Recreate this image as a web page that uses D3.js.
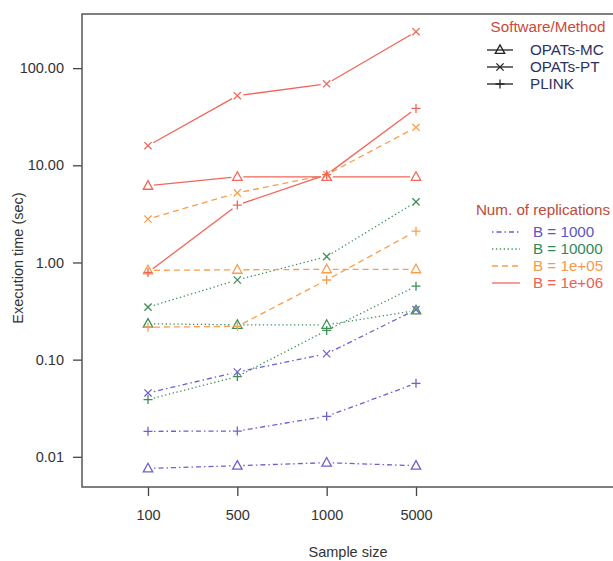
<!DOCTYPE html>
<html><head><meta charset="utf-8">
<script src="https://cdn.jsdelivr.net/npm/d3@7"></script>
<style>body{margin:0;background:#fff}svg{display:block}text{font-family:"Liberation Sans",Arial,sans-serif}</style>
</head><body>
<script>
const sampleSizes = ["100", "500", "1000", "5000"];
const methods = ["OPATs-MC", "OPATs-PT", "PLINK"];
const replications = ["B = 1000", "B = 10000", "B = 1e+05", "B = 1e+06"];
const yTicks = [0.01, 0.1, 1, 10, 100];

// execution time (sec), per replication level, per method, by sample size
const b1000_mc = [0.0076, 0.0081, 0.0087, 0.0081];
const b1000_pt = [0.0454, 0.0746, 0.115, 0.327];
const b1000_plink = [0.0183, 0.0184, 0.0261, 0.057];
const b10000_mc = [0.234, 0.228, 0.228, 0.32];
const b10000_pt = [0.347, 0.66, 1.15, 4.2];
const b10000_plink = [0.0388, 0.067, 0.2, 0.57];
const b1e05_mc = [0.83, 0.84, 0.85, 0.85];
const b1e05_pt = [2.8, 5.2, 8.0, 24.6];
const b1e05_plink = [0.216, 0.22, 0.66, 2.1];
const b1e06_mc = [6.15, 7.6, 7.6, 7.6];
const b1e06_pt = [15.9, 52, 69, 237];
const b1e06_plink = [0.79, 3.9, 8.0, 38.5];

const seriesValues = [
  [b1000_mc, b1000_pt, b1000_plink],
  [b10000_mc, b10000_pt, b10000_plink],
  [b1e05_mc, b1e05_pt, b1e05_plink],
  [b1e06_mc, b1e06_pt, b1e06_plink]
];

const W = 613, H = 561;
const box = {left: 82, top: 14, right: 640, bottom: 487};
const colors = ["#6b62cc", "#3f8f55", "#f99e4c", "#f0665a"];
const textColors = ["#5a55c8", "#2f8a5a", "#f79a45", "#ee5e55"];
const dashes = ["1.5,3,5,3", "1.3,2.6", "6,4", null];

const svg = d3.select("body").append("svg").attr("width", W).attr("height", H);

const x = d3.scalePoint().domain(sampleSizes).range([148, 416]);
const y = d3.scaleLog().domain([0.00489, 360.6]).range([box.bottom, box.top]);

function markerPath(kind, r) {
  if (kind === 0) { // open triangle
    const h = r * 1.9;
    return `M0,${-h * 0.6}L${r * 1.05},${h * 0.4}L${-r * 1.05},${h * 0.4}Z`;
  }
  if (kind === 1) { const a = r * 0.8; return `M${-a},${-a}L${a},${a}M${-a},${a}L${a},${-a}`; }
  return `M${-r},0H${r}M0,${-r}V${r}`;
}

// axes
const yAxis = d3.axisLeft(y).tickValues(yTicks).tickFormat(d3.format(".2f")).tickSize(9).tickPadding(9);
const gy = svg.append("g").attr("transform", `translate(${box.left},0)`).call(yAxis);
const xAxis = d3.axisBottom(x).tickSize(9).tickPadding(14);
const gx = svg.append("g").attr("transform", `translate(0,${box.bottom})`).call(xAxis);
[gy, gx].forEach(g => {
  g.select(".domain").remove();
  g.selectAll(".tick line").attr("stroke", "#444").attr("stroke-width", 1.3);
  g.selectAll(".tick text").attr("font-size", 14.5).attr("fill", "#333")
    .attr("font-family", "'Liberation Sans',Arial,sans-serif");
});

// box
svg.append("rect").attr("x", box.left).attr("y", box.top)
  .attr("width", box.right - box.left).attr("height", box.bottom - box.top)
  .attr("fill", "none").attr("stroke", "#555").attr("stroke-width", 1.5);

// axis titles
svg.append("text").attr("x", 348).attr("y", 557).attr("text-anchor", "middle")
  .attr("font-size", 14.5).attr("fill", "#333").text("Sample size");
svg.append("text").attr("transform", "translate(23,258) rotate(-90)").attr("text-anchor", "middle")
  .attr("font-size", 14.5).attr("fill", "#333").text("Execution time (sec)");

// series
const gap = 6;
const line = d3.line();
seriesValues.forEach((group, bi) => {
  group.forEach((vals, mi) => {
    const pts = vals.map((v, i) => [x(sampleSizes[i]), y(v)]);
    const g = svg.append("g");
    for (let i = 0; i < pts.length - 1; i++) {
      const [x0, y0] = pts[i], [x1, y1] = pts[i + 1];
      const dx = x1 - x0, dy = y1 - y0, L = Math.hypot(dx, dy);
      if (L <= 2 * gap) continue;
      const ux = dx / L, uy = dy / L;
      g.append("path")
        .attr("d", line([[x0 + ux * gap, y0 + uy * gap], [x1 - ux * gap, y1 - uy * gap]]))
        .attr("fill", "none").attr("stroke", colors[bi]).attr("stroke-width", 1.3)
        .attr("stroke-dasharray", dashes[bi]);
    }
    g.selectAll("path.m").data(pts).join("path").attr("class", "m")
      .attr("transform", d => `translate(${d[0]},${d[1]})`)
      .attr("d", markerPath(mi, 4.5))
      .attr("fill", "none").attr("stroke", colors[bi]).attr("stroke-width", 1.3);
  });
});

// legend 1: methods
svg.append("text").attr("x", 548).attr("y", 32).attr("text-anchor", "middle")
  .attr("font-size", 15.2).attr("fill", "#cc4a3a").text("Software/Method");
methods.forEach((m, i) => {
  const yy = 50 + i * 17;
  svg.append("line").attr("x1", 487).attr("x2", 513).attr("y1", yy).attr("y2", yy)
    .attr("stroke", "#222").attr("stroke-width", 1.3);
  svg.append("path").attr("transform", `translate(500,${yy})`).attr("d", markerPath(i, 4.5))
    .attr("fill", "none").attr("stroke", "#222").attr("stroke-width", 1.3);
  svg.append("text").attr("x", 530).attr("y", yy + 5).attr("font-size", 15.2)
    .attr("fill", "#2d3060").text(m);
});

// legend 2: replications
svg.append("text").attr("x", 543).attr("y", 215).attr("text-anchor", "middle")
  .attr("font-size", 15.2).attr("fill", "#c04a3a").text("Num. of replications");
replications.forEach((r, i) => {
  const yy = 232 + i * 17;
  svg.append("line").attr("x1", 492).attr("x2", 520).attr("y1", yy).attr("y2", yy)
    .attr("stroke", colors[i]).attr("stroke-width", 1.3).attr("stroke-dasharray", dashes[i]);
  svg.append("text").attr("x", 533).attr("y", yy + 5).attr("font-size", 15.2)
    .attr("fill", textColors[i]).text(r);
});
</script>
</body></html>
